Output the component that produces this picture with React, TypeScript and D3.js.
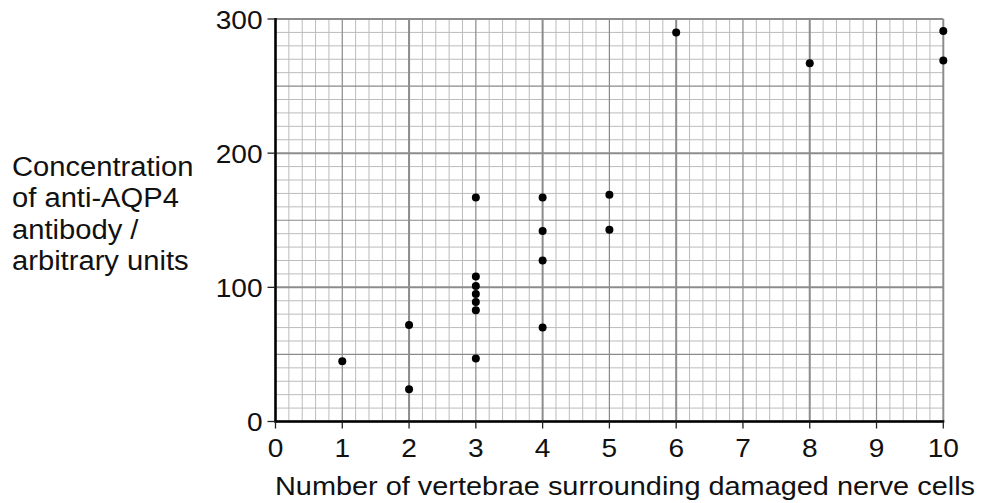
import React from "react";
import * as d3 from "d3";

const vertebrae = [1, 2, 2, 3, 3, 3, 3, 3, 3, 3, 4, 4, 4, 4, 5, 5, 6, 8, 10, 10];
const concentration = [45, 24, 72, 167, 108, 101, 95, 89, 83, 47, 167, 142, 120, 70, 169, 143, 290, 267, 291, 269];
const xTicks = [0, 1, 2, 3, 4, 5, 6, 7, 8, 9, 10];
const yTicks = [0, 100, 200, 300];
const yLabelLines = ["Concentration", "of anti-AQP4", "antibody /", "arbitrary units"];
const xLabel = "Number of vertebrae surrounding damaged nerve cells";

const W = 993;
const H = 503;
const FONT = "'Liberation Sans', Arial, Helvetica, sans-serif";
const SX = 1.08;

export default function App() {
  const x = d3.scaleLinear().domain([0, 10]).range([275.5, 943.3]);
  const y = d3.scaleLinear().domain([0, 300]).range([421.5, 19]);

  const xMinor = d3.range(0, 51).map((i) => i * 0.2);
  const yMinor = d3.range(0, 31).map((i) => i * 10);

  const styleFor = (i: number) => {
    if (i % 10 === 0) return { stroke: "#8c8c8c", sw: 2 };
    if (i % 5 === 0) return { stroke: "#8a8a8a", sw: 1.2 };
    return { stroke: "#bcbcbc", sw: 1 };
  };

  const pts = vertebrae.map((v, i) => ({ v, c: concentration[i] }));

  return (
    <svg
      width={W}
      height={H}
      style={{ position: "absolute", left: 0, top: 0, background: "#fff" }}
      fontFamily={FONT}
    >
      <rect x={0} y={0} width={W} height={H} fill="#fff" />
      {[0, 1, 2].map((layer) => (
        <g key={layer}>
          {xMinor.map((v, i) => {
            const lvl = i % 10 === 0 ? 2 : i % 5 === 0 ? 1 : 0;
            if (lvl !== layer) return null;
            const s = styleFor(i);
            return (
              <line key={"x" + i} x1={x(v)} x2={x(v)} y1={y(0)} y2={y(300)} stroke={s.stroke} strokeWidth={s.sw} />
            );
          })}
          {yMinor.map((v, i) => {
            const lvl = i % 10 === 0 ? 2 : i % 5 === 0 ? 1 : 0;
            if (lvl !== layer) return null;
            const s = styleFor(i);
            return (
              <line key={"y" + i} x1={x(0)} x2={x(10)} y1={y(v)} y2={y(v)} stroke={s.stroke} strokeWidth={s.sw} />
            );
          })}
        </g>
      ))}
      <line x1={x(0)} x2={x(0)} y1={y(300) - 1} y2={y(0) + 1} stroke="#000" strokeWidth={2.5} />
      <line x1={x(0) - 1} x2={x(10) + 1} y1={y(0)} y2={y(0)} stroke="#000" strokeWidth={2.5} />
      {yTicks.map((t) => (
        <g key={"yt" + t}>
          <line x1={x(0) - 8} x2={x(0)} y1={y(t)} y2={y(t)} stroke="#222" strokeWidth={1.3} />
          <text
            transform={`translate(${x(0) - 13},${y(t) + 9.5}) scale(${SX},1)`}
            textAnchor="end"
            fontSize={26}
            fill="#111"
          >
            {t}
          </text>
        </g>
      ))}
      {xTicks.map((t) => (
        <g key={"xt" + t}>
          <line x1={x(t)} x2={x(t)} y1={y(0)} y2={y(0) + 7} stroke="#222" strokeWidth={1.3} />
          <text
            transform={`translate(${x(t)},456.5) scale(${SX},1)`}
            textAnchor="middle"
            fontSize={26}
            fill="#111"
          >
            {t}
          </text>
        </g>
      ))}
      {pts.map((p, i) => (
        <circle key={i} cx={x(p.v)} cy={y(p.c)} r={4} fill="#000" />
      ))}
      <text x={275} y={495} fontSize={26.5} fill="#111" textLength={700} lengthAdjust="spacingAndGlyphs">
        {xLabel}
      </text>
      {yLabelLines.map((l, i) => (
        <text
          key={l}
          transform={`translate(12,${176.3 + i * 31.1}) scale(${SX},1)`}
          fontSize={27}
          fill="#111"
        >
          {l}
        </text>
      ))}
    </svg>
  );
}
